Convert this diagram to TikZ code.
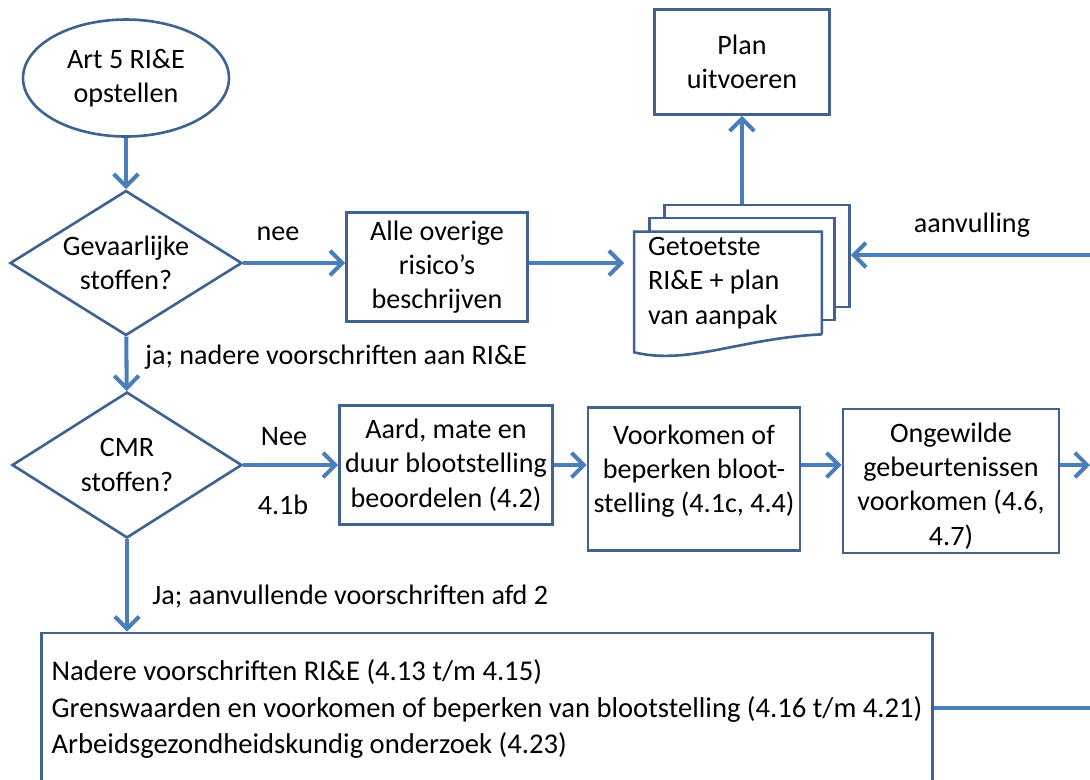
\documentclass[tikz,border=0pt]{standalone}
\usepackage{fontspec}
\setmainfont{Carlito}
\usetikzlibrary{arrows.meta,shapes.geometric}
\definecolor{boxblue}{RGB}{64,98,145}
\definecolor{arrowblue}{RGB}{74,126,187}
\tikzset{
    box/.style={draw=boxblue,line width=1.5pt,fill=white,align=center,inner sep=2pt},
    decision/.style={diamond,draw=boxblue,line width=1.5pt,align=center,aspect=1.6,inner sep=0pt},
    flow/.style={arrowblue,line width=2.3pt},
    lbl/.style={inner sep=0pt}
}
\begin{document}
\begin{tikzpicture}[x=0.02cm,y=-0.02cm,>={Straight Barb[length=7pt,width=14pt]},
                    font=\fontsize{16}{19.5}\selectfont]
    \useasboundingbox (0,0) rectangle (1090,779);

    \node[ellipse,draw=boxblue,line width=1.5pt,align=center,
          minimum width=4.12cm,minimum height=2.34cm] (1) at (126,78) {Art 5 RI\&E\\opstellen};
    \node[decision,minimum width=4.64cm,minimum height=2.9cm] (2) at (126,263) {Gevaarlijke\\stoffen?};
    \node[box,minimum width=3.62cm,minimum height=2.18cm] (3) at (437,267) {Alle overige\\risico’s\\beschrijven};
    \node[box,minimum width=3.5cm,minimum height=2.1cm] (4) at (742,62) {Plan\\uitvoeren};

    % stapel documenten
    \node[box,minimum width=3.7cm,minimum height=2.04cm] (5b) at (757,256) {};
    \node[box,minimum width=3.7cm,minimum height=2.04cm] (5a) at (742,269) {};
    \node[fill=white,align=flush left,text width=3.2cm,inner xsep=0.27cm,inner ysep=0pt,
          minimum height=2.04cm] (5) at (728,283) {Getoetste\\RI\&E + plan\\van aanpak};
    \draw[boxblue,line width=1.5pt] (5.south east) -- (5.north east) -- (5.north west)
        -- ([yshift=-0.36cm]5.south west) .. controls +(55,13) and +(-82,4) .. (5.south east);

    \node[decision,minimum width=4.6cm,minimum height=2.92cm] (6) at (127,465) {CMR\\stoffen?};
    \node[box,minimum width=4.26cm,minimum height=2.38cm] (7) at (446,465) {Aard, mate en\\duur blootstelling\\beoordelen (4.2)};
    \node[box,minimum width=4.24cm,minimum height=2.86cm] (8) at (694,479) {};
    \node[align=center] (8t) at (694,471) {Voorkomen of\\beperken bloot-\\stelling (4.1c, 4.4)};
    \node[box,minimum width=4.32cm,minimum height=2.88cm] (9) at (951,481) {};
    \node[align=center] (9t) at (951,486) {Ongewilde\\gebeurtenissen\\voorkomen (4.6,\\4.7)};
    \node[box,align=flush left,text width=17.42cm,inner xsep=0.2cm,minimum height=3.04cm,
          font=\fontsize{16.3}{21}\selectfont] (10) at (487,709)
        {Nadere voorschriften RI\&E (4.13 t/m 4.15)\\
         Grenswaarden en voorkomen of beperken van blootstelling (4.16 t/m 4.21)\\
         Arbeidsgezondheidskundig onderzoek (4.23)};

    \coordinate (r1) at (1090,255);
    \coordinate (r2) at (1090,468);
    \coordinate (r3) at (1090,708);

    \node[lbl] (l1) at (278,234) {nee};
    \node[lbl] (l2) at (972,225) {aanvulling};
    \node[lbl,anchor=west] (l3) at (145,357) {ja; nadere voorschriften aan RI\&E};
    \node[lbl] (l4) at (284,437) {Nee};
    \node[lbl] (l5) at (283,505) {4.1b};
    \node[lbl,anchor=west] (l6) at (152,597) {Ja; aanvullende voorschriften afd 2};

    \path[flow,->] (1) edge (2)
                   (2.east) edge (2.east -| 3.west)
                   (2.east -| 3.east) edge ([xshift=-0.2cm]2.east -| 5.west)
                   (5b.north -| 5a) edge (4)
                   (r1) edge (r1 -| 5b.east)
                   (2) edge (6)
                   (6.east) edge (6.east -| 7.west)
                   (7.east) edge (7.east -| 8.west)
                   (7.east -| 8.east) edge (7.east -| 9.west)
                   (7.east -| 9.east) edge (7.east -| r2)
                   (6.south) edge (6.south |- 10.north);
    \draw[flow] (r3 -| 10.east) -- (r3);
\end{tikzpicture}
\end{document}
